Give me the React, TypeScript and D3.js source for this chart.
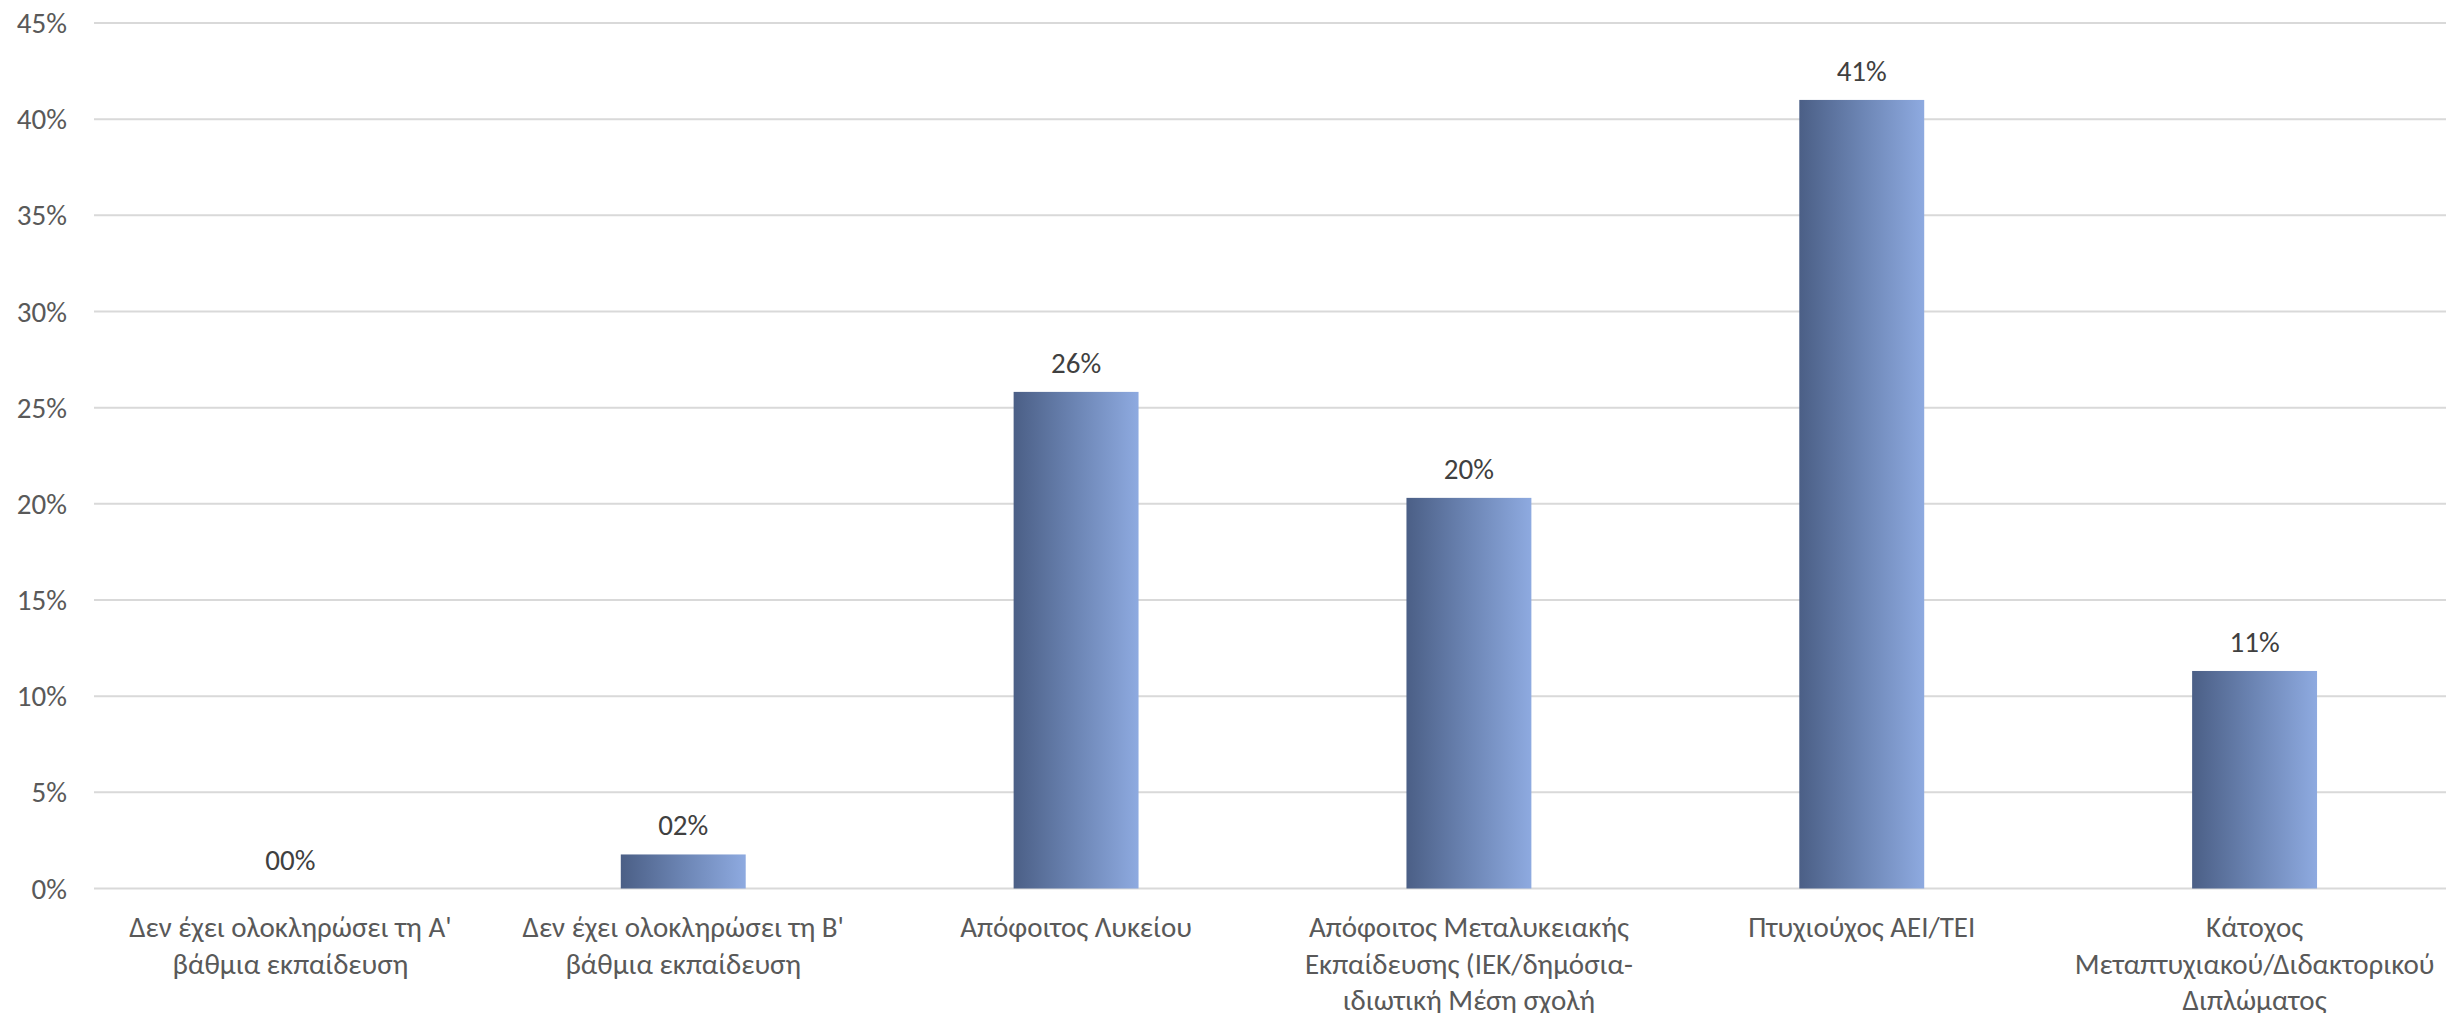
import React from "react";
import * as d3 from "d3";

const categories: string[][] = [
  ["Δεν έχει ολοκληρώσει τη Α'", "βάθμια εκπαίδευση"],
  ["Δεν έχει ολοκληρώσει τη Β'", "βάθμια εκπαίδευση"],
  ["Απόφοιτος Λυκείου"],
  ["Απόφοιτος Μεταλυκειακής", "Εκπαίδευσης (ΙΕΚ/δημόσια-", "ιδιωτική Μέση σχολή"],
  ["Πτυχιούχος ΑΕΙ/ΤΕΙ"],
  ["Κάτοχος", "Μεταπτυχιακού/Διδακτορικού", "Διπλώματος"],
];
const values: number[] = [0, 1.77, 25.82, 20.31, 41.0, 11.31];
const yTicks: number[] = [0, 5, 10, 15, 20, 25, 30, 35, 40, 45];

const W = 2446;
const H = 1013;
const FONT = "Carlito, Calibri, 'Noto Sans', sans-serif";

export default function App() {
  const x = d3
    .scaleBand<number>()
    .domain(d3.range(categories.length))
    .range([94, 2451])
    .paddingInner(0.682)
    .paddingOuter(0.341);
  const y = d3.scaleLinear().domain([0, 45]).range([888.5, 23]);
  const fmt = (v: number) => d3.format("02d")(Math.round(v)) + "%";

  return (
    <svg
      width={W}
      height={H}
      style={{ position: "absolute", left: 0, top: 0, background: "#fff", overflow: "hidden" }}
      fontFamily={FONT}
    >
      <defs>
        <linearGradient id="barGrad" x1="0" x2="1" y1="0" y2="0">
          <stop offset="0%" stopColor="#4b5f86" />
          <stop offset="50%" stopColor="#6c85b4" />
          <stop offset="100%" stopColor="#8eaae0" />
        </linearGradient>
      </defs>
      {yTicks.map((t) => (
        <g key={t}>
          <line x1={94} x2={W} y1={y(t)} y2={y(t)} stroke="#d9d9d9" strokeWidth={2} />
          <text
            x={67}
            y={y(t)}
            dy="0.35em"
            textAnchor="end"
            fontSize={29}
            fill="#595959"
          >
            {t}%
          </text>
        </g>
      ))}
      {values.map((v, i) => {
        const bx = x(i)!;
        const bw = x.bandwidth();
        return (
          <g key={i}>
            <rect x={bx} y={y(v)} width={bw} height={y(0) - y(v)} fill="url(#barGrad)" />
            <text
              x={bx + bw / 2}
              y={y(v) - 19}
              textAnchor="middle"
              fontSize={29}
              fill="#404040"
            >
              {fmt(v)}
            </text>
          </g>
        );
      })}
      {categories.map((lines, i) => (
        <text
          key={i}
          x={x(i)! + x.bandwidth() / 2}
          y={937}
          textAnchor="middle"
          fontSize={29}
          fill="#595959"
        >
          {lines.map((l, j) => (
            <tspan key={j} x={x(i)! + x.bandwidth() / 2} dy={j === 0 ? 0 : 36.7}>
              {l}
            </tspan>
          ))}
        </text>
      ))}
    </svg>
  );
}
